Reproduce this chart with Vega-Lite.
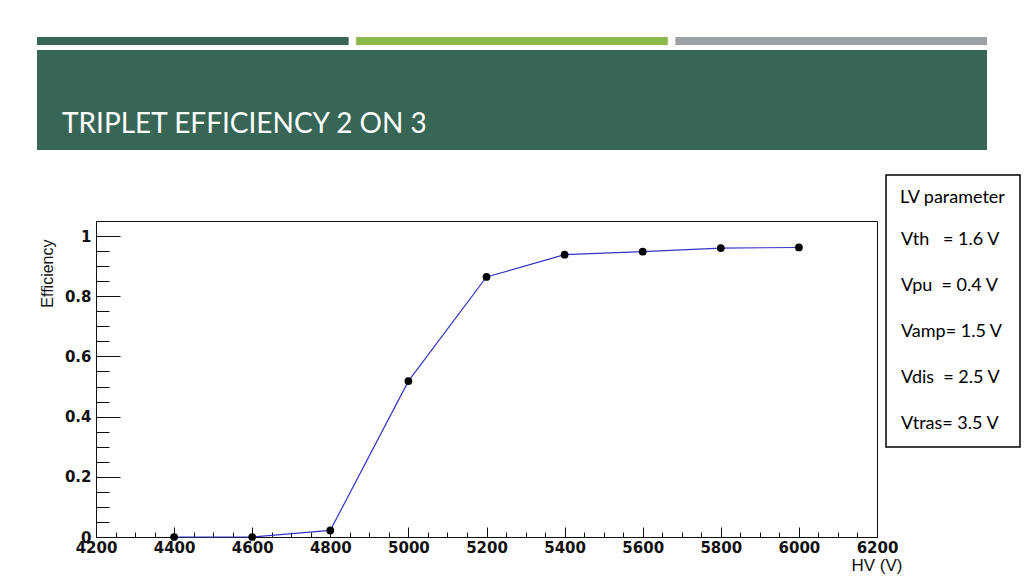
{
  "$schema": "https://vega.github.io/schema/vega-lite/v6.json",
  "background": "white",
  "padding": {"left": 37, "top": 37, "right": 5, "bottom": 3},
  "config": {
    "view": {"stroke": null},
    "axis": {"grid": false},
    "legend": {"strokeWidth": 1.5}
  },
  "columns": 1,
  "spacing": 23,
  "resolve": {
    "scale": {"shape": "independent", "color": "independent"},
    "legend": {"shape": "independent", "color": "independent"}
  },
  "concat": [
    {
      "columns": 1,
      "spacing": 5,
      "concat": [
        {
          "width": 950,
          "height": 8,
          "data": {"values": [{"block": "first"}, {"block": "second"}, {"block": "third"}]},
          "mark": "bar",
          "encoding": {
            "x": {
              "field": "block",
              "type": "nominal",
              "sort": null,
              "axis": null,
              "scale": {"paddingInner": 0.0235, "paddingOuter": 0}
            },
            "color": {
              "field": "block",
              "type": "nominal",
              "sort": null,
              "legend": null,
              "scale": {"range": ["#386655", "#8cb94b", "#9ea1a4"]}
            }
          }
        },
        {
          "width": 950,
          "height": 100,
          "data": {"values": [{"section": "TRIPLET EFFICIENCY 2 ON 3"}]},
          "mark": {"type": "rect", "color": "#376656"},
          "encoding": {"tooltip": {"field": "section", "type": "nominal"}},
          "title": {
            "text": "TRIPLET EFFICIENCY 2 ON 3",
            "orient": "bottom",
            "anchor": "start",
            "frame": "group",
            "offset": -17,
            "dx": 25,
            "baseline": "alphabetic",
            "color": "white",
            "font": "Lato",
            "fontSize": 28,
            "fontWeight": "normal"
          }
        }
      ]
    },
    {
      "hconcat": [
        {
          "width": 1,
          "height": 1,
          "data": {"values": []},
          "mark": "point"
        },
        {
          "width": 781,
          "height": 316,
          "view": {"stroke": "#111111", "strokeWidth": 1},
          "data": {
            "values": [
              {"HV": 4400, "Efficiency": 0},
              {"HV": 4600, "Efficiency": 0},
              {"HV": 4800, "Efficiency": 0.022},
              {"HV": 5000, "Efficiency": 0.518},
              {"HV": 5200, "Efficiency": 0.864},
              {"HV": 5400, "Efficiency": 0.938},
              {"HV": 5600, "Efficiency": 0.948},
              {"HV": 5800, "Efficiency": 0.96},
              {"HV": 6000, "Efficiency": 0.962}
            ]
          },
          "layer": [
            {
              "mark": {"type": "line", "color": "#3434c8", "strokeWidth": 1.2},
              "encoding": {
                "x": {
                  "field": "HV",
                  "type": "quantitative",
                  "scale": {"domain": [4200, 6200], "nice": false, "zero": false},
                  "axis": {
                    "orient": "bottom",
                    "values": [4200, 4400, 4600, 4800, 5000, 5200, 5400, 5600, 5800, 6000, 6200],
                    "format": "d",
                    "tickSize": -10,
                    "tickColor": "#111111",
                    "domainColor": "#111111",
                    "labelPadding": 13,
                    "labelFlush": false,
                    "labelOverlap": false,
                    "labelFont": "DejaVu Sans",
                    "labelFontWeight": "bold",
                    "labelFontSize": 15,
                    "labelColor": "#111111",
                    "title": "HV (V)",
                    "titleFont": "Liberation Sans",
                    "titleFontSize": 17,
                    "titleFontWeight": "normal",
                    "titleColor": "#111111",
                    "titleX": 806,
                    "titleAlign": "right",
                    "titlePadding": 2
                  }
                },
                "y": {
                  "field": "Efficiency",
                  "type": "quantitative",
                  "scale": {"domain": [0, 1.05], "nice": false},
                  "axis": {
                    "orient": "left",
                    "values": [0, 0.2, 0.4, 0.6, 0.8, 1],
                    "format": "~g",
                    "tickSize": -24,
                    "tickColor": "#111111",
                    "domainColor": "#111111",
                    "labelPadding": 29,
                    "labelOverlap": false,
                    "labelFont": "DejaVu Sans",
                    "labelFontWeight": "bold",
                    "labelFontSize": 15,
                    "labelColor": "#111111",
                    "title": "Efficiency",
                    "titleFont": "Liberation Sans",
                    "titleFontSize": 16,
                    "titleFontWeight": "normal",
                    "titleColor": "#111111",
                    "titleY": 18,
                    "titleAlign": "right",
                    "titlePadding": 9
                  }
                }
              }
            },
            {
              "mark": {"type": "circle", "color": "black", "opacity": 1, "size": 60},
              "encoding": {
                "x": {
                  "field": "HV",
                  "type": "quantitative",
                  "axis": {
                    "orient": "top",
                    "offset": -316,
                    "values": [4200, 4250, 4300, 4350, 4400, 4450, 4500, 4550, 4600, 4650, 4700, 4750, 4800, 4850, 4900, 4950, 5000, 5050, 5100, 5150, 5200, 5250, 5300, 5350, 5400, 5450, 5500, 5550, 5600, 5650, 5700, 5750, 5800, 5850, 5900, 5950, 6000, 6050, 6100, 6150, 6200],
                    "tickSize": 5,
                    "tickColor": "#111111",
                    "labels": false,
                    "domain": false,
                    "title": null
                  }
                },
                "y": {
                  "field": "Efficiency",
                  "type": "quantitative",
                  "axis": {
                    "orient": "right",
                    "offset": -781,
                    "values": [0, 0.05, 0.1, 0.15, 0.2, 0.25, 0.3, 0.35, 0.4, 0.45, 0.5, 0.55, 0.6, 0.65, 0.7, 0.75, 0.8, 0.85, 0.9, 0.95, 1],
                    "tickSize": 13,
                    "tickColor": "#111111",
                    "labels": false,
                    "domain": false,
                    "title": null
                  }
                }
              }
            },
            {
              "data": {
                "values": [
                  {"parameter": "Vth", "label": "Vth\u00a0\u00a0\u00a0= 1.6 V"},
                  {"parameter": "Vpu", "label": "Vpu\u00a0\u00a0= 0.4 V"},
                  {"parameter": "Vamp", "label": "Vamp= 1.5 V"},
                  {"parameter": "Vdis", "label": "Vdis\u00a0\u00a0= 2.5 V"},
                  {"parameter": "Vtras", "label": "Vtras= 3.5 V"}
                ]
              },
              "mark": {"type": "point", "opacity": 0},
              "encoding": {
                "shape": {
                  "field": "label",
                  "type": "nominal",
                  "sort": null,
                  "legend": {
                    "orient": "none",
                    "legendX": 790,
                    "legendY": -46,
                    "title": "LV parameter",
                    "titleFont": "Lato",
                    "titleFontSize": 18,
                    "titleFontWeight": "normal",
                    "titleColor": "black",
                    "titlePadding": 24,
                    "labelFont": "Lato",
                    "labelFontSize": 18,
                    "labelColor": "black",
                    "labelOffset": -17,
                    "labelLimit": 300,
                    "symbolSize": 1,
                    "symbolStrokeWidth": 0,
                    "strokeColor": "black",
                    "fillColor": "white",
                    "padding": 14,
                    "rowPadding": 28
                  }
                }
              }
            }
          ]
        }
      ],
      "spacing": 0,
      "resolve": {
        "scale": {"shape": "independent"},
        "legend": {"shape": "independent"}
      }
    }
  ]
}
